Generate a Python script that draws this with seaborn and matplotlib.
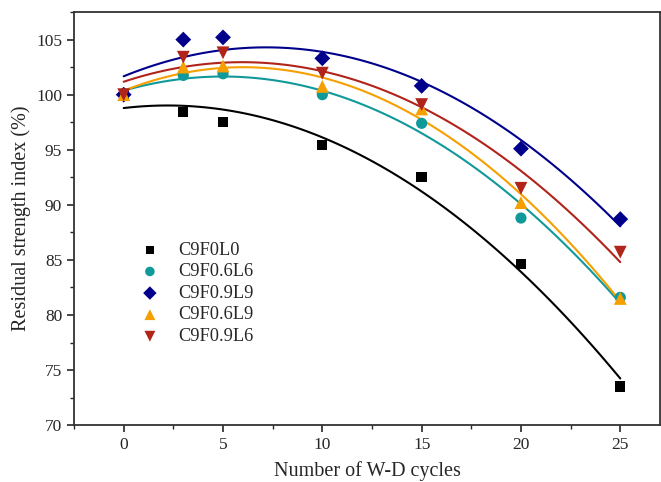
import matplotlib
matplotlib.use("Agg")
import matplotlib.pyplot as plt
import pandas as pd
import seaborn as sns
from matplotlib.ticker import MultipleLocator

# 数据
cycles = [0, 3, 5, 10, 15, 20, 25]
c9f0l0 = [100.0, 98.4, 97.5, 95.4, 92.5, 84.6, 73.5]
c9f06l6 = [100.0, 101.75, 101.9, 100.0, 97.4, 88.8, 81.6]
c9f09l9 = [100.0, 105.0, 105.2, 103.3, 100.8, 95.1, 88.7]
c9f06l9 = [100.0, 102.5, 102.6, 100.75, 98.7, 90.2, 81.5]
c9f09l6 = [100.0, 103.4, 103.8, 101.95, 99.1, 91.5, 85.7]

names = ['C9F0L0', 'C9F0.6L6', 'C9F0.9L9', 'C9F0.6L9', 'C9F0.9L6']
series = [c9f0l0, c9f06l6, c9f09l9, c9f06l9, c9f09l6]
colors = ['#000000', '#10999A', '#00008B', '#F5A000', '#B0241A']
markers = ['s', 'o', 'D', '^', 'v']
sizes = [55, 65, 65, 85, 85]

df = pd.DataFrame({
    'cycles': cycles * len(names),
    'value': [v for s in series for v in s],
    'group': [n for n in names for _ in cycles],
})

sns.set_style("ticks")
plt.rcParams['font.family'] = ['Liberation Serif', 'DejaVu Serif']

fig = plt.figure(figsize=(6.61, 4.82), dpi=100)
ax = fig.add_axes([0.112, 0.118, 0.8865, 0.857])

# 二次拟合曲线
for n, c in zip(names, colors):
    sub = df[df['group'] == n]
    sns.regplot(x='cycles', y='value', data=sub, order=2, scatter=False, ci=None,
                color=c, line_kws={'linewidth': 1.5}, truncate=True, ax=ax)

# 数据点
for n, c, m, s in zip(names, colors, markers, sizes):
    sub = df[df['group'] == n]
    ax.scatter(sub['cycles'], sub['value'], marker=m, s=s, color=c,
               edgecolors='none', label=n, zorder=3)

ax.set_xlim(-2.5, 27)
ax.set_ylim(70, 107.5)
ax.xaxis.set_major_locator(MultipleLocator(5))
ax.xaxis.set_minor_locator(MultipleLocator(2.5))
ax.yaxis.set_major_locator(MultipleLocator(5))
ax.yaxis.set_minor_locator(MultipleLocator(2.5))
ax.tick_params(which='major', direction='out', length=5, width=1.2, labelsize=12.5)
ax.tick_params(which='minor', direction='out', length=3, width=1.0)
for sp in ax.spines.values():
    sp.set_linewidth(1.3)
    sp.set_color('#333333')

ax.set_xlabel('Number of W-D cycles', fontsize=14.5, labelpad=6)
ax.set_ylabel('Residual strength index (%)', fontsize=14.5)

leg = ax.legend(loc='upper left', bbox_to_anchor=(0.07, 0.484), frameon=False,
                fontsize=13.2, handletextpad=0.55, labelspacing=0.25, markerscale=0.85)

plt.savefig('out.png', dpi=100)
